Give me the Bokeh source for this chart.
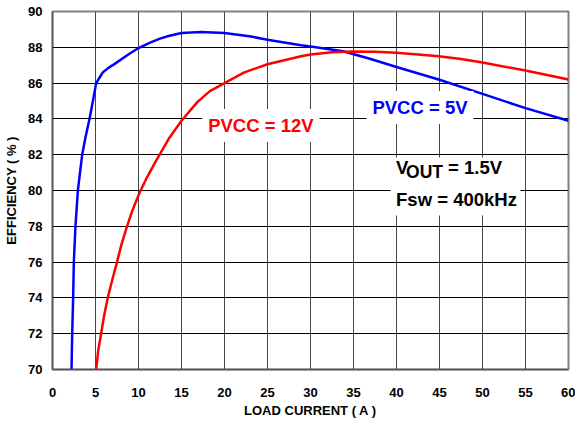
from bokeh.plotting import figure
from bokeh.models import Label, BoxAnnotation, FixedTicker
from bokeh.embed import file_html
from bokeh.resources import INLINE

# Data
x_5v = [2.21, 2.29, 2.40, 2.48, 2.67, 2.95, 3.45, 3.85, 4.3, 4.7, 5.08, 5.46, 5.85, 6.5, 7.19, 8.73, 10.0, 11.42, 12.58, 13.5, 15.0, 17.25, 20.0, 23.1, 25.0, 28.9, 30.0, 33.8, 37.0, 40.0, 44.9, 50.0, 55.0, 60.0]
y_5v = [70.0, 72.0, 74.0, 76.0, 78.0, 80.0, 82.0, 83.0, 84.0, 85.0, 86.0, 86.3, 86.6, 86.85, 87.06, 87.57, 87.96, 88.28, 88.5, 88.63, 88.8, 88.85, 88.8, 88.6, 88.42, 88.12, 88.05, 87.78, 87.35, 86.9, 86.2, 85.4, 84.6, 83.9]

x_12v = [5.08, 5.3, 5.65, 6.0, 6.42, 7.0, 7.5, 8.0, 8.6, 9.3, 10.1, 11.0, 12.2, 13.6, 15.0, 16.86, 18.3, 20.0, 22.3, 25.0, 28.9, 30.0, 32.5, 34.9, 37.5, 40.0, 42.5, 44.9, 47.5, 50.0, 55.0, 60.0]
y_12v = [70.0, 71.0, 72.0, 73.0, 74.0, 75.1, 76.0, 76.95, 77.9, 78.9, 79.85, 80.75, 81.8, 82.95, 83.9, 84.95, 85.55, 86.0, 86.6, 87.05, 87.5, 87.6, 87.72, 87.77, 87.75, 87.7, 87.6, 87.5, 87.35, 87.15, 86.7, 86.2]

x_ticks = [0, 5, 10, 15, 20, 25, 30, 35, 40, 45, 50, 55, 60]
y_ticks = [70, 72, 74, 76, 78, 80, 82, 84, 86, 88, 90]

FONT = "Liberation Sans"

p = figure(width=575, height=428, x_range=(0, 60), y_range=(70, 90),
           output_backend="svg", toolbar_location=None,
           min_border_left=52, min_border_right=7, min_border_top=11, min_border_bottom=59)

p.xaxis.ticker = FixedTicker(ticks=x_ticks)
p.yaxis.ticker = FixedTicker(ticks=y_ticks)
p.xaxis.minor_tick_line_color = None
p.yaxis.minor_tick_line_color = None
for ax in (p.xaxis[0], p.yaxis[0]):
    ax.major_tick_out = 0
    ax.major_tick_in = 0
    ax.axis_line_color = "#555555"
    ax.axis_line_width = 1.5
    ax.major_label_text_font = FONT
    ax.major_label_text_font_style = "bold"
    ax.major_label_text_font_size = "13px"
    ax.major_label_text_color = "black"
    ax.axis_label_text_font = FONT
    ax.axis_label_text_font_style = "bold"
    ax.axis_label_text_font_size = "13px"
    ax.axis_label_text_color = "black"

p.xaxis.axis_label = "LOAD CURRENT ( A )"
p.yaxis.axis_label = "EFFICIENCY ( % )"
p.xaxis.major_label_standoff = 18
p.xaxis.axis_label_standoff = 3
p.yaxis.major_label_standoff = 10
p.yaxis.axis_label_standoff = 6

p.xgrid.grid_line_color = "#444444"
p.xgrid.grid_line_width = 1
p.ygrid.grid_line_color = "black"
p.ygrid.grid_line_width = 1
p.outline_line_color = "#808080"
p.outline_line_width = 2
p.background_fill_color = "white"
p.border_fill_color = "white"

p.line(x_5v, y_5v, line_color="#0000FF", line_width=2.5)
p.line(x_12v, y_12v, line_color="#FF0000", line_width=2.5)

# White box behind the condition text
p.add_layout(BoxAnnotation(left=39.3, right=54.4, bottom=78.6, top=81.85,
                           fill_color="white", fill_alpha=1.0, line_color=None))

def lab(text, x, y, color, size="18.5px", xoff=0, yoff=0, bg=False, baseline="middle"):
    kw = {}
    if bg:
        kw = dict(background_fill_color="white", background_fill_alpha=1.0, padding=6)
    p.add_layout(Label(x=x, y=y, text=text, text_color=color, text_font=FONT,
                       text_font_style="bold", text_font_size=size,
                       text_align="left", text_baseline=baseline,
                       x_offset=xoff, y_offset=yoff, **kw))

lab("PVCC = 12V", 18.1, 83.63, "#FF0000", xoff=-6, bg=True)
lab("PVCC = 5V", 37.2, 84.64, "#0000FF", xoff=-6, bg=True)

lab("V", 39.95, 80.84, "black", yoff=8, baseline="alphabetic")
lab("OUT", 39.95, 80.84, "black", size="17.5px", xoff=10, yoff=3, baseline="alphabetic")
lab("= 1.5V", 39.95, 80.84, "black", xoff=52, yoff=8, baseline="alphabetic")
lab("Fsw = 400kHz", 39.95, 79.0, "black", yoff=9, baseline="alphabetic")

open("out.html", "w").write(file_html(p, INLINE))
